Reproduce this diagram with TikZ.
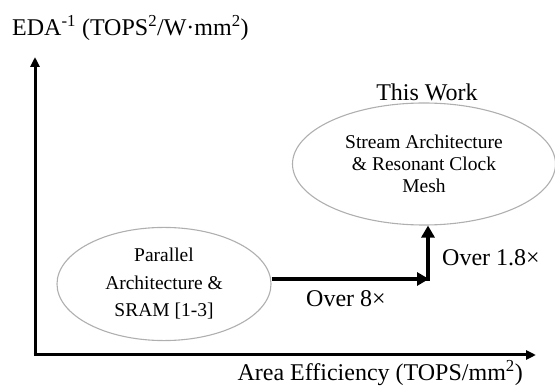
\documentclass[tikz,border=0pt]{standalone}
\usepackage{fontspec}
\setmainfont{Liberation Serif}
\usetikzlibrary{shapes.geometric,arrows.meta}
\begin{document}
\begin{tikzpicture}[x=1pt,y=-1pt,
  axisline/.style={line width=3pt,-{Triangle[length=10pt,width=9pt]}},
  growarrow/.style={line width=4.5pt,-{Triangle[length=12pt,width=13pt]}},
  bubble/.style={ellipse,draw={rgb,255:red,175;green,175;blue,175},line width=1.1pt,inner sep=0pt,align=center,font=\fontsize{19.5}{25}\selectfont},
  lbl/.style={font=\fontsize{24}{28}\selectfont,inner sep=0pt}]
\useasboundingbox (0,0) rectangle (555,387);
% axes
\coordinate (O) at (35,355);
\coordinate (Xend) at (536,355);
\coordinate (Yend) at (35,57);
\draw[axisline] ([xshift=-1.5pt]O) -- (Xend);
\draw[axisline] ([yshift=1.5pt]O) -- (Yend);
\node[lbl,anchor=west] (ylab) at (12,28) {EDA\textsuperscript{-1} (TOPS\textsuperscript{2}/W·mm\textsuperscript{2})};
\node[lbl,anchor=east] (xlab) at (523,373) {Area Efficiency (TOPS/mm\textsuperscript{2})};
% ellipses
\node[bubble,minimum width=214pt,minimum height=100pt] (L) at (164,284)
  {\raisebox{7pt}{\begin{tabular}{@{}c@{}}Parallel\\[3pt]Architecture \&\\[2pt]SRAM [1-3]\end{tabular}}};
\node[bubble,minimum width=263pt,minimum height=122pt,font=\fontsize{19.5}{22}\selectfont] (R) at (424,164)
  {Stream Architecture\\\& Resonant Clock\\Mesh};
\node[lbl] (tw) at (427,92) {This Work};
% growth arrows
\coordinate (corner) at (428,279);
\draw[growarrow] (L.east |- corner) -- ([xshift=1pt]corner);
\draw[growarrow] ([yshift=-2pt]corner) -- (corner |- R.south);
\node[lbl] (o8) at (346,299) {Over 8×};
\node[lbl,anchor=west] (o18) at (442,258) {Over 1.8×};
\end{tikzpicture}
\end{document}
